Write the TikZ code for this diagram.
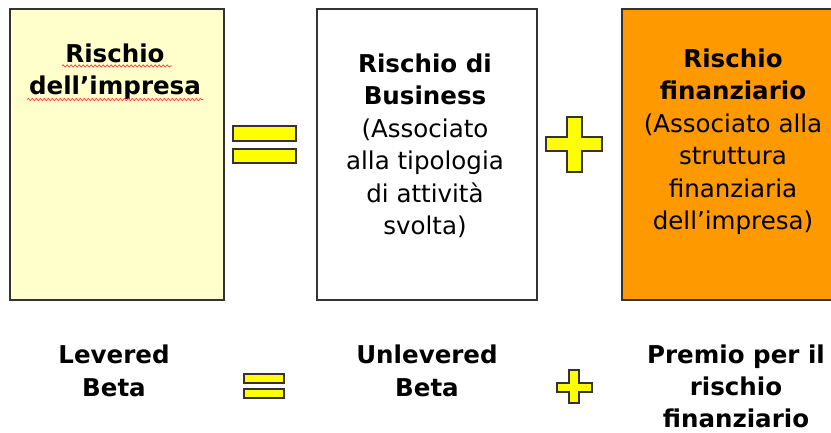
\documentclass[tikz,border=0pt]{standalone}
\usepackage{fontspec}
\setmainfont{DejaVu Sans}
\usetikzlibrary{decorations.pathmorphing}
\definecolor{paleyellow}{HTML}{FFFFCC}
\definecolor{orangebox}{HTML}{FF9900}
\definecolor{signyellow}{HTML}{FFFF00}
\definecolor{edgegray}{HTML}{333333}
\definecolor{squiggle}{HTML}{FF3333}
\tikzset{
  riskbox/.style={draw=edgegray, line width=1pt, minimum height=218.25pt, inner sep=0pt},
  boxtext/.style={align=center, anchor=north, inner sep=0pt, text=black,
    font=\fontsize{18.4}{24.4}\selectfont},
  signshape/.style={draw=edgegray, line width=1pt, fill=signyellow},
  spell/.style={draw=squiggle, line width=0.5pt, decorate,
    decoration={snake, amplitude=0.8pt, segment length=3pt}}
}
\begin{document}
\begin{tikzpicture}[x=0.75pt,y=-0.75pt]
\useasboundingbox (0,0) rectangle (831,432);
\clip (0,0) rectangle (831,432);
% boxes
\node[riskbox, fill=paleyellow, minimum width=160.5pt] (impresa) at (117,154.5) {};
\node[riskbox, fill=white, minimum width=165pt] (business) at (427,154.5) {};
\node[riskbox, fill=orangebox, minimum width=166.5pt] (finanz) at (733,154.5) {};
% box texts
\node[boxtext] (timpresa) at (115,43.4) {\textbf{Rischio}\\\textbf{dell’impresa}};
\draw[spell] (62,66) -- (172,66);
\draw[spell] (27,99.5) -- (203,99.5);
\node[boxtext] (tbusiness) at (425,53.4) {\textbf{Rischio di}\\\textbf{Business}\\(Associato\\alla tipologia\\di attività\\svolta)};
\node[boxtext] (tfinanz) at (733,48.4) {\textbf{Rischio}\\\textbf{finanziario}\\(Associato alla\\struttura\\finanziaria\\dell’impresa)};
% top signs
\draw[signshape] (233,126) rectangle (296,141);
\draw[signshape] (233,149) rectangle (296,163);
\draw[signshape] (567,117) -- (582,117) -- (582,137) -- (602,137) -- (602,151) -- (582,151) -- (582,172) -- (567,172) -- (567,151) -- (546,151) -- (546,137) -- (567,137) -- cycle;
% bottom row
\node[boxtext, font=\bfseries\fontsize{18.4}{25}\selectfont] (levered) at (114,344.4) {Levered\\Beta};
\node[boxtext, font=\bfseries\fontsize{18.4}{25}\selectfont] (unlevered) at (427,344.4) {Unlevered\\Beta};
\node[boxtext, font=\bfseries\fontsize{18.4}{24.2}\selectfont] (premio) at (736,344.4) {Premio per il\\rischio\\finanziario};
\draw[signshape] (244,374) rectangle (284,383);
\draw[signshape] (244,389) rectangle (284,398);
\draw[signshape] (569,370) -- (579,370) -- (579,383) -- (592,383) -- (592,392) -- (579,392) -- (579,403) -- (569,403) -- (569,392) -- (557,392) -- (557,383) -- (569,383) -- cycle;
\end{tikzpicture}
\end{document}
